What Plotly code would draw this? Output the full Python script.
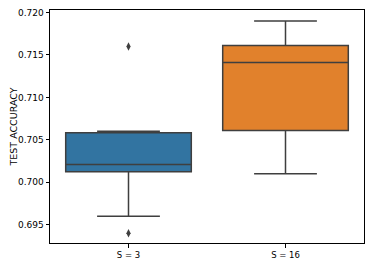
import plotly.graph_objects as go

categories = ["S = 3", "S = 16"]
q1 = [0.70125, 0.7061]
median = [0.7021, 0.7141]
q3 = [0.70583, 0.7161]
lower_whisker = [0.6960, 0.7010]
upper_whisker = [0.7060, 0.7190]
colors = ["#3274a1", "#e1812c"]
outlier_x = ["S = 3", "S = 3"]
outlier_y = [0.7160, 0.6940]
yticks = [0.695, 0.700, 0.705, 0.710, 0.715, 0.720]

fig = go.Figure()
for i, c in enumerate(categories):
    fig.add_trace(go.Box(
        x=[c], q1=[q1[i]], median=[median[i]], q3=[q3[i]],
        lowerfence=[lower_whisker[i]], upperfence=[upper_whisker[i]],
        fillcolor=colors[i], line=dict(color="#3f3f3f", width=1.5),
        width=0.8, whiskerwidth=0.5, boxpoints=False, showlegend=False,
    ))
fig.add_trace(go.Scatter(
    x=outlier_x, y=outlier_y, mode="markers",
    marker=dict(symbol="diamond-tall", size=6, color="#3f3f3f"),
    showlegend=False,
))

# page body has an 8px default margin; compensate
fig.update_layout(
    width=366, height=257,
    margin=dict(l=42, r=10, t=1.5, b=22),
    plot_bgcolor="white", paper_bgcolor="white",
    font=dict(family="DejaVu Sans", size=9, color="black"),
    boxmode="overlay",
)
fig.update_xaxes(
    type="category", categoryorder="array", categoryarray=categories,
    range=[-0.5, 1.5], showline=True, linecolor="black", linewidth=1,
    mirror=True, ticks="outside", ticklen=3.5, tickcolor="black",
    showgrid=False, zeroline=False, tickfont=dict(size=8.5, color="black"),
    automargin=False, ticklabeloverflow="allow",
)
fig.update_yaxes(
    range=[0.69285, 0.72029], tickvals=yticks, tickformat=".3f",
    showline=True, linecolor="black", linewidth=1, mirror=True,
    ticks="outside", ticklen=3.5, tickcolor="black",
    showgrid=False, zeroline=False, tickfont=dict(size=9, color="black"),
    automargin=False, ticklabeloverflow="allow",
    title=dict(text="TEST ACCURACY", font=dict(size=9.5, color="black"), standoff=0),
)
fig.write_html("out.html")
